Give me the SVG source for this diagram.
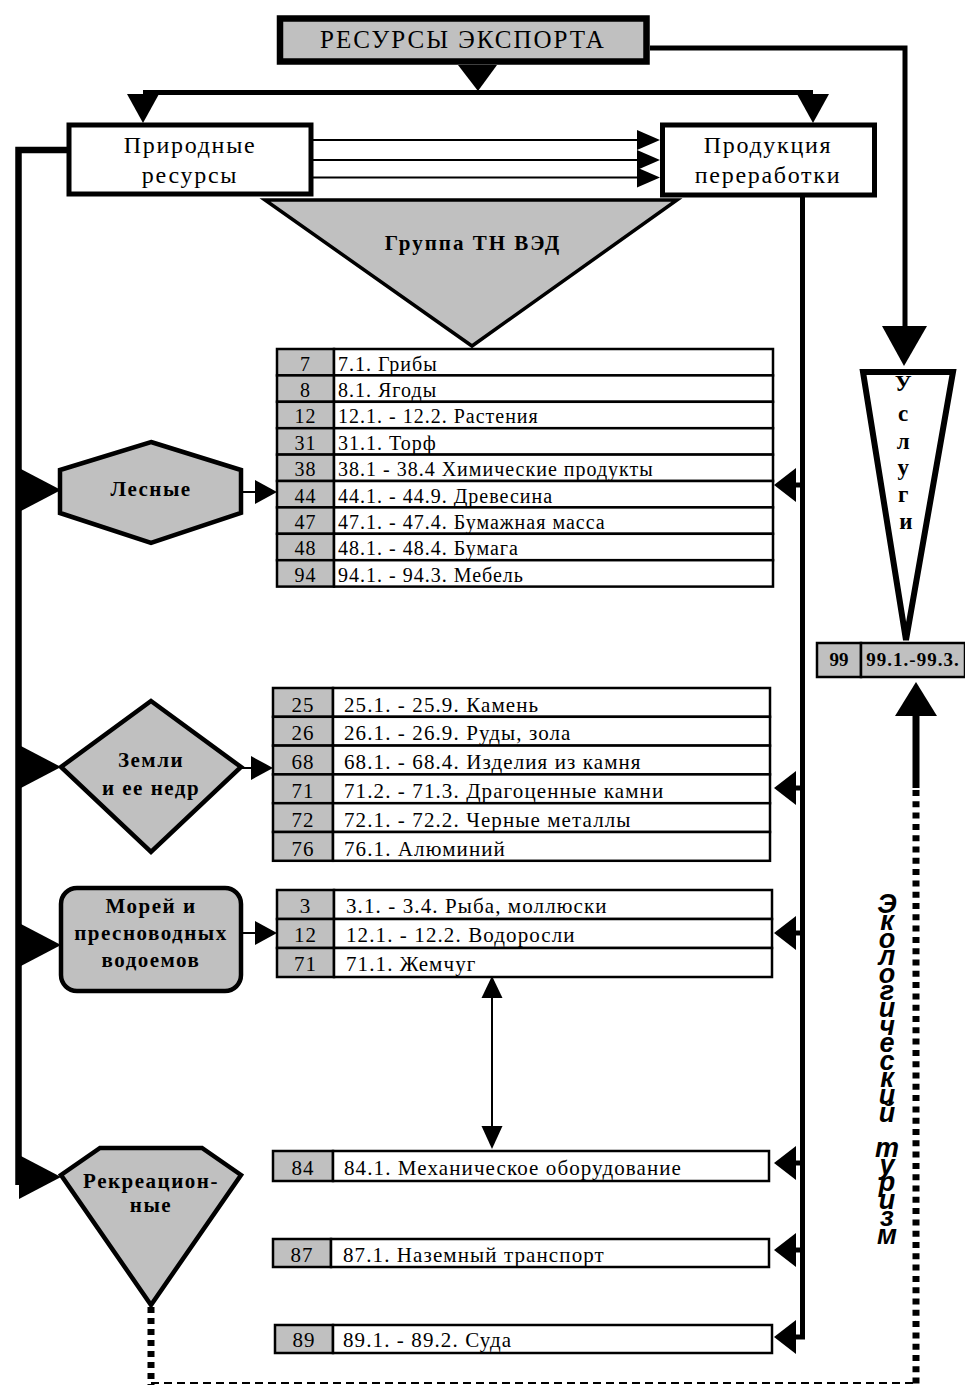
<svg xmlns="http://www.w3.org/2000/svg" xmlns:xlink="http://www.w3.org/1999/xlink" width="965" height="1385" viewBox="0 0 965 1385">
<style>
.bg{fill:#fff}
.box{fill:#fff;stroke:#000;stroke-width:5}
.node{fill:#c0c0c0;stroke:#000;stroke-width:4.5;stroke-linejoin:miter}
.num{fill:#c0c0c0;stroke:#000;stroke-width:2.5}
.cell{fill:#fff;stroke:#000;stroke-width:2.5}
.ln{fill:none;stroke:#000;stroke-linejoin:miter}
.ah{fill:#000;stroke:none}
.t{font-family:"Liberation Serif","DejaVu Serif",serif;fill:#000}
.tb{font-family:"Liberation Serif","DejaVu Serif",serif;font-weight:bold;fill:#000}
.main{font-size:24px;letter-spacing:1.7px;text-anchor:middle}
.nd{font-size:21px;letter-spacing:1.5px;text-anchor:middle}
.r1{font-size:20px;letter-spacing:1px}
.r2{font-size:21px;letter-spacing:1.1px}
.c{text-anchor:middle}
.eco{font-family:"Liberation Sans","DejaVu Sans",sans-serif;font-weight:bold;font-style:italic;font-size:27px;fill:#000;writing-mode:vertical-rl;text-orientation:upright;letter-spacing:-12.6px}
</style>
<defs>
<path id="ahL" d="M0 0 L22 -17 L22 17Z"/>
<path id="ahRB" d="M0 0 L-42 -22 L-42 22Z"/>
<path id="ahRS" d="M0 0 L-22 -12 L-22 12Z"/>
<path id="ahRT" d="M0 0 L-23 -10 L-23 10Z"/>
<path id="ahD" d="M0 0 L-16 -29 L16 -29Z"/>
</defs>
<rect class="bg" x="0" y="0" width="965" height="1385"/>

<g id="connectors">
  <polygon class="ah" points="458,65 497,65 478,91"/>
  <line class="ln" x1="143" y1="92.5" x2="813" y2="92.5" stroke-width="5"/>
  <use xlink:href="#ahD" href="#ahD" x="143" y="123" class="ah"/>
  <use xlink:href="#ahD" href="#ahD" x="813" y="123" class="ah"/>
  <line class="ln" x1="313" y1="140" x2="640" y2="140" stroke-width="2"/>
  <line class="ln" x1="313" y1="160" x2="640" y2="160" stroke-width="2"/>
  <line class="ln" x1="313" y1="177.5" x2="640" y2="177.5" stroke-width="2"/>
  <use xlink:href="#ahRT" href="#ahRT" x="660" y="140" class="ah"/>
  <use xlink:href="#ahRT" href="#ahRT" x="660" y="160" class="ah"/>
  <use xlink:href="#ahRT" href="#ahRT" x="660" y="177.5" class="ah"/>
  <polyline class="ln" points="650,48 905,48 905,328" stroke-width="5"/>
  <polygon class="ah" points="882,326 927,326 904,366"/>
  <polyline class="ln" points="67,150 18.5,150 18.5,1185" stroke-width="6.5"/>
  <use xlink:href="#ahRB" href="#ahRB" x="61" y="490" class="ah"/>
  <use xlink:href="#ahRB" href="#ahRB" x="61" y="767" class="ah"/>
  <use xlink:href="#ahRB" href="#ahRB" x="61" y="945" class="ah"/>
  <use xlink:href="#ahRB" href="#ahRB" x="61" y="1177" class="ah"/>
  <line class="ln" x1="241" y1="492" x2="256" y2="492" stroke-width="2"/>
  <use xlink:href="#ahRS" href="#ahRS" x="277" y="492" class="ah"/>
  <line class="ln" x1="241" y1="768" x2="252" y2="768" stroke-width="2"/>
  <use xlink:href="#ahRS" href="#ahRS" x="273" y="768" class="ah"/>
  <line class="ln" x1="241" y1="933" x2="256" y2="933" stroke-width="2"/>
  <use xlink:href="#ahRS" href="#ahRS" x="277" y="933" class="ah"/>
  <polyline class="ln" points="802.5,197 802.5,1337 795,1337" stroke-width="5"/>
  <line class="ln" x1="795" y1="485" x2="802" y2="485" stroke-width="5"/>
  <line class="ln" x1="795" y1="788" x2="802" y2="788" stroke-width="5"/>
  <line class="ln" x1="795" y1="933" x2="802" y2="933" stroke-width="5"/>
  <line class="ln" x1="795" y1="1163" x2="802" y2="1163" stroke-width="5"/>
  <line class="ln" x1="795" y1="1250" x2="802" y2="1250" stroke-width="5"/>
  <use xlink:href="#ahL" href="#ahL" x="774" y="485" class="ah"/>
  <use xlink:href="#ahL" href="#ahL" x="774" y="788" class="ah"/>
  <use xlink:href="#ahL" href="#ahL" x="774" y="933" class="ah"/>
  <use xlink:href="#ahL" href="#ahL" x="774" y="1163" class="ah"/>
  <use xlink:href="#ahL" href="#ahL" x="774" y="1250" class="ah"/>
  <use xlink:href="#ahL" href="#ahL" x="774" y="1337" class="ah"/>
  <line class="ln" x1="492" y1="996" x2="492" y2="1127" stroke-width="2"/>
  <polygon class="ah" points="492,976 481.5,998 502.5,998"/>
  <polygon class="ah" points="492,1149 481.5,1126 502.5,1126"/>
  <polygon class="ah" points="916,682 895,716 937,716"/>
  <line class="ln" x1="916" y1="714" x2="916" y2="788" stroke-width="7"/>
  <line class="ln" x1="916" y1="790" x2="916" y2="1385" stroke-width="7" stroke-dasharray="6 5.3"/>
  <line class="ln" x1="151" y1="1307" x2="151" y2="1385" stroke-width="7" stroke-dasharray="6 5"/>
  <line class="ln" x1="151" y1="1383" x2="916" y2="1383" stroke-width="2" stroke-dasharray="8 5"/>
</g>

<g id="node-export">
  <rect x="280" y="18.5" width="366.5" height="43" fill="#c0c0c0" stroke="#000" stroke-width="6.5"/>
  <text class="t" x="463" y="48" font-size="25" letter-spacing="2" text-anchor="middle">РЕСУРСЫ ЭКСПОРТА</text>
</g>

<g id="node-natural">
  <rect class="box" x="69" y="125" width="242" height="69"/>
  <text class="t main" x="190" y="153">Природные</text>
  <text class="t main" x="190" y="183">ресурсы</text>
</g>

<g id="node-products">
  <rect class="box" x="662.5" y="125" width="212" height="70"/>
  <text class="t main" x="768" y="153">Продукция</text>
  <text class="t main" x="768" y="183">переработки</text>
</g>

<g id="node-group">
  <polygon points="265,200 677,200 472,346" fill="#c0c0c0" stroke="#000" stroke-width="3.5"/>
  <text class="tb" x="473" y="250" font-size="21" letter-spacing="2" text-anchor="middle">Группа ТН ВЭД</text>
</g>

<g id="node-services">
  <polygon points="863,372 953,372 906,640" fill="#fff" stroke="#000" stroke-width="6"/>
  <text class="tb c" font-size="23">
    <tspan x="906" y="391">У</tspan>
    <tspan x="906" y="421">с</tspan>
    <tspan x="906" y="449">л</tspan>
    <tspan x="906" y="475">у</tspan>
    <tspan x="906" y="502">г</tspan>
    <tspan x="906" y="529">и</tspan>
  </text>
</g>

<g id="node-99">
  <rect class="num" x="817" y="643" width="44" height="34"/>
  <rect class="num" x="861" y="643" width="104" height="34"/>
  <text class="tb c" x="839" y="666" font-size="19">99</text>
  <text class="tb c" x="913" y="666" font-size="19" letter-spacing="1">99.1.-99.3.</text>
</g>

<g id="node-forest">
  <polygon class="node" points="151,442 241,470 241,513 151,543 60,513 60,470"/>
  <text class="tb nd" x="151" y="496">Лесные</text>
</g>

<g id="node-land">
  <polygon class="node" points="151,701 241,767 151,852 61,767"/>
  <text class="tb nd" x="151" y="767">Земли</text>
  <text class="tb nd" x="151" y="795">и ее недр</text>
</g>

<g id="node-seas">
  <rect class="node" x="61" y="888" width="180" height="103" rx="16" ry="16"/>
  <text class="tb nd" x="151" y="913">Морей и</text>
  <text class="tb nd" x="151" y="940">пресноводных</text>
  <text class="tb nd" x="151" y="967">водоемов</text>
</g>

<g id="node-recreation">
  <polygon class="node" points="100,1148 202,1148 241,1175 151,1305 61,1175"/>
  <text class="tb nd" x="151" y="1188">Рекреацион-</text>
  <text class="tb nd" x="151" y="1212">ные</text>
</g>

<g id="table-forest">
  <rect class="num" x="277" y="349" width="57" height="26.4"/><rect class="cell" x="334" y="349" width="439" height="26.4"/>
  <rect class="num" x="277" y="375.4" width="57" height="26.4"/><rect class="cell" x="334" y="375.4" width="439" height="26.4"/>
  <rect class="num" x="277" y="401.8" width="57" height="26.4"/><rect class="cell" x="334" y="401.8" width="439" height="26.4"/>
  <rect class="num" x="277" y="428.2" width="57" height="26.4"/><rect class="cell" x="334" y="428.2" width="439" height="26.4"/>
  <rect class="num" x="277" y="454.6" width="57" height="26.4"/><rect class="cell" x="334" y="454.6" width="439" height="26.4"/>
  <rect class="num" x="277" y="481" width="57" height="26.4"/><rect class="cell" x="334" y="481" width="439" height="26.4"/>
  <rect class="num" x="277" y="507.4" width="57" height="26.4"/><rect class="cell" x="334" y="507.4" width="439" height="26.4"/>
  <rect class="num" x="277" y="533.8" width="57" height="26.4"/><rect class="cell" x="334" y="533.8" width="439" height="26.4"/>
  <rect class="num" x="277" y="560.2" width="57" height="26.4"/><rect class="cell" x="334" y="560.2" width="439" height="26.4"/>
  <g class="t r1">
    <text class="c" x="305.5" y="370.5">7</text><text x="338" y="370.5">7.1. Грибы</text>
    <text class="c" x="305.5" y="396.9">8</text><text x="338" y="396.9">8.1. Ягоды</text>
    <text class="c" x="305.5" y="423.3">12</text><text x="338" y="423.3">12.1. - 12.2. Растения</text>
    <text class="c" x="305.5" y="449.7">31</text><text x="338" y="449.7">31.1. Торф</text>
    <text class="c" x="305.5" y="476.1">38</text><text x="338" y="476.1">38.1 - 38.4 Химические продукты</text>
    <text class="c" x="305.5" y="502.5">44</text><text x="338" y="502.5">44.1. - 44.9. Древесина</text>
    <text class="c" x="305.5" y="528.9">47</text><text x="338" y="528.9">47.1. - 47.4. Бумажная масса</text>
    <text class="c" x="305.5" y="555.3">48</text><text x="338" y="555.3">48.1. - 48.4. Бумага</text>
    <text class="c" x="305.5" y="581.7">94</text><text x="338" y="581.7">94.1. - 94.3. Мебель</text>
  </g>
</g>

<g id="table-land">
  <rect class="num" x="273" y="688" width="60" height="28.8"/><rect class="cell" x="333" y="688" width="437" height="28.8"/>
  <rect class="num" x="273" y="716.8" width="60" height="28.8"/><rect class="cell" x="333" y="716.8" width="437" height="28.8"/>
  <rect class="num" x="273" y="745.6" width="60" height="28.8"/><rect class="cell" x="333" y="745.6" width="437" height="28.8"/>
  <rect class="num" x="273" y="774.4" width="60" height="28.8"/><rect class="cell" x="333" y="774.4" width="437" height="28.8"/>
  <rect class="num" x="273" y="803.2" width="60" height="28.8"/><rect class="cell" x="333" y="803.2" width="437" height="28.8"/>
  <rect class="num" x="273" y="832" width="60" height="28.8"/><rect class="cell" x="333" y="832" width="437" height="28.8"/>
  <g class="t r2">
    <text class="c" x="303" y="711.5">25</text><text x="344" y="711.5">25.1. - 25.9. Камень</text>
    <text class="c" x="303" y="740.3">26</text><text x="344" y="740.3">26.1. - 26.9. Руды, зола</text>
    <text class="c" x="303" y="769.1">68</text><text x="344" y="769.1">68.1. - 68.4. Изделия из камня</text>
    <text class="c" x="303" y="797.9">71</text><text x="344" y="797.9">71.2. - 71.3. Драгоценные камни</text>
    <text class="c" x="303" y="826.7">72</text><text x="344" y="826.7">72.1. - 72.2. Черные металлы</text>
    <text class="c" x="303" y="855.5">76</text><text x="344" y="855.5">76.1. Алюминий</text>
  </g>
</g>

<g id="table-seas">
  <rect class="num" x="277" y="890" width="57" height="29"/><rect class="cell" x="334" y="890" width="438" height="29"/>
  <rect class="num" x="277" y="919" width="57" height="29"/><rect class="cell" x="334" y="919" width="438" height="29"/>
  <rect class="num" x="277" y="948" width="57" height="29"/><rect class="cell" x="334" y="948" width="438" height="29"/>
  <g class="t r2">
    <text class="c" x="305.5" y="913">3</text><text x="346" y="913">3.1. - 3.4. Рыба, моллюски</text>
    <text class="c" x="305.5" y="942">12</text><text x="346" y="942">12.1. - 12.2. Водоросли</text>
    <text class="c" x="305.5" y="971">71</text><text x="346" y="971">71.1. Жемчуг</text>
  </g>
</g>

<g id="table-84">
  <rect class="num" x="273" y="1151" width="60" height="30"/><rect class="cell" x="333" y="1151" width="436" height="30"/>
  <text class="t r2 c" x="303" y="1175">84</text><text class="t r2" x="344" y="1175" letter-spacing="1.2">84.1. Механическое оборудование</text>
</g>

<g id="table-87">
  <rect class="num" x="273" y="1239" width="58" height="28"/><rect class="cell" x="331" y="1239" width="438" height="28"/>
  <text class="t r2 c" x="302" y="1262">87</text><text class="t r2" x="343" y="1262" letter-spacing="1.2">87.1. Наземный транспорт</text>
</g>

<g id="table-89">
  <rect class="num" x="275" y="1325" width="58" height="28"/><rect class="cell" x="333" y="1325" width="439" height="28"/>
  <text class="t r2 c" x="304" y="1347">89</text><text class="t r2" x="343" y="1347" letter-spacing="1.2">89.1. - 89.2. Суда</text>
</g>

<g id="label-eco">
  <text class="eco" x="887" y="889">Экологический туризм</text>
</g>
</svg>
